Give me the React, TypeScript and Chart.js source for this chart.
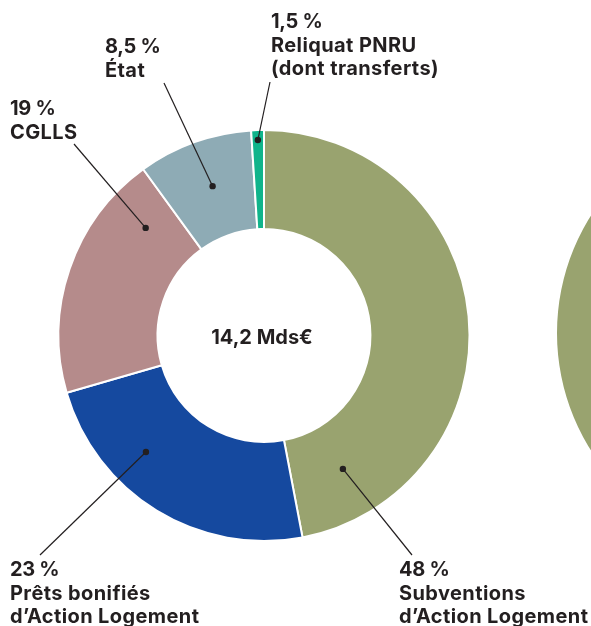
import React, { useEffect, useRef } from "react";
import { Chart, registerables } from "chart.js";

Chart.register(...registerables);

// ---- data ----
const categories = [
  "Subventions d’Action Logement",
  "Prêts bonifiés d’Action Logement",
  "CGLLS",
  "État",
  "Reliquat PNRU (dont transferts)",
];
// slice sizes as drawn in the picture (labels below give the published rounded shares)
const sliceShares = [47, 23.5, 19.5, 9, 1];
const percentLabels = ["48 %", "23 %", "19 %", "8,5 %", "1,5 %"];
const labelLines = [
  ["Subventions", "d’Action Logement"],
  ["Prêts bonifiés", "d’Action Logement"],
  ["CGLLS"],
  ["État"],
  ["Reliquat PNRU", "(dont transferts)"],
];
const totalLabel = "14,2 Mds€";
// neighbouring chart, only its left edge is visible
const neighbourCategories = ["Subventions"];
const neighbourValues = [100];

// ---- styles ----
const COLORS = ["#99a36f", "#15499f", "#b58b8b", "#8eabb5", "#10b48b"];
const TEXT = "#231f20";
const FONT = "bold 20px Inter";
const LINE_H = 23.5;
// dot placement inside each slice: t = fraction of the angle span, r = fraction of ring thickness
const DOT = [
  { t: 0.883, r: 0.49 },
  { t: 0.664, r: 0.6 },
  { t: 0.833, r: 0.54 },
  { t: 0.525, r: 0.52 },
  { t: 0.5, r: 0.9 },
];
// leader line end & text left / first baseline
const ANCHOR = [
  { lx: 412, ly: 555, tx: 399, ty: 576 },
  { lx: 40, ly: 555, tx: 10, ty: 576 },
  { lx: 74, ly: 144, tx: 10, ty: 115 },
  { lx: 164, ly: 83, tx: 105, ty: 53 },
  { lx: 270, ly: 82, tx: 271, ty: 28 },
];

const labelPlugin = {
  id: "labelPlugin",
  afterDraw(chart: any) {
    const ctx = chart.ctx;
    const meta = chart.getDatasetMeta(0);
    ctx.save();
    meta.data.forEach((el: any, i: number) => {
      const p = el.getProps(["x", "y", "startAngle", "endAngle", "innerRadius", "outerRadius"], true);
      const d = DOT[i];
      const a = p.startAngle + d.t * (p.endAngle - p.startAngle);
      const r = p.innerRadius + d.r * (p.outerRadius - p.innerRadius);
      const dx = p.x + Math.cos(a) * r;
      const dy = p.y + Math.sin(a) * r;
      const an = ANCHOR[i];
      ctx.strokeStyle = TEXT;
      ctx.lineWidth = 1.2;
      ctx.beginPath();
      ctx.moveTo(dx, dy);
      ctx.lineTo(an.lx, an.ly);
      ctx.stroke();
      ctx.fillStyle = TEXT;
      ctx.beginPath();
      ctx.arc(dx, dy, 3.2, 0, Math.PI * 2);
      ctx.fill();
      ctx.font = FONT;
      ctx.textAlign = "left";
      ctx.textBaseline = "alphabetic";
      const lines = [percentLabels[i], ...labelLines[i]];
      lines.forEach((s, k) => {
        (ctx as any).letterSpacing = k === 0 ? "-0.3px" : "0.4px";
        ctx.fillText(s, an.tx, an.ty + k * LINE_H);
      });
    });
    const c = meta.data[0];
    (ctx as any).letterSpacing = "0px";
    ctx.font = "bold 20px Inter";
    ctx.textAlign = "center";
    ctx.fillStyle = TEXT;
    ctx.fillText(totalLabel, c.x - 2, c.y + 8);
    ctx.restore();
  },
};

export default function App() {
  const ref1 = useRef<HTMLCanvasElement>(null);
  const ref2 = useRef<HTMLCanvasElement>(null);

  useEffect(() => {
    const c1 = new Chart(ref1.current!, {
      type: "doughnut",
      data: {
        labels: categories,
        datasets: [
          {
            data: sliceShares,
            backgroundColor: COLORS,
            borderColor: "#ffffff",
            borderWidth: 2,
          },
        ],
      },
      options: {
        responsive: false,
        animation: false,
        radius: 205.5,
        cutout: "51.8%",
        layout: { padding: { left: 0, right: 63, top: 45, bottom: 0 } },
        plugins: { legend: { display: false }, tooltip: { enabled: false } },
      } as any,
      plugins: [labelPlugin],
    });
    const c2 = new Chart(ref2.current!, {
      type: "doughnut",
      data: {
        labels: neighbourCategories,
        datasets: [
          {
            data: neighbourValues,
            backgroundColor: [COLORS[0]],
            borderWidth: 0,
          },
        ],
      },
      options: {
        responsive: false,
        animation: false,
        radius: 220,
        cutout: "52%",
        layout: { padding: { left: 0, right: 0, top: 40, bottom: 0 } },
        plugins: { legend: { display: false }, tooltip: { enabled: false } },
      } as any,
    });
    return () => {
      c1.destroy();
      c2.destroy();
    };
  }, []);

  return (
    <div
      style={{
        position: "fixed",
        left: 0,
        top: 0,
        width: 591,
        height: 626,
        overflow: "hidden",
        background: "#ffffff",
      }}
    >
      <canvas ref={ref1} width={591} height={626} style={{ position: "absolute", left: 0, top: 0 }} />
      <canvas ref={ref2} width={460} height={626} style={{ position: "absolute", left: 547, top: 0 }} />
    </div>
  );
}
